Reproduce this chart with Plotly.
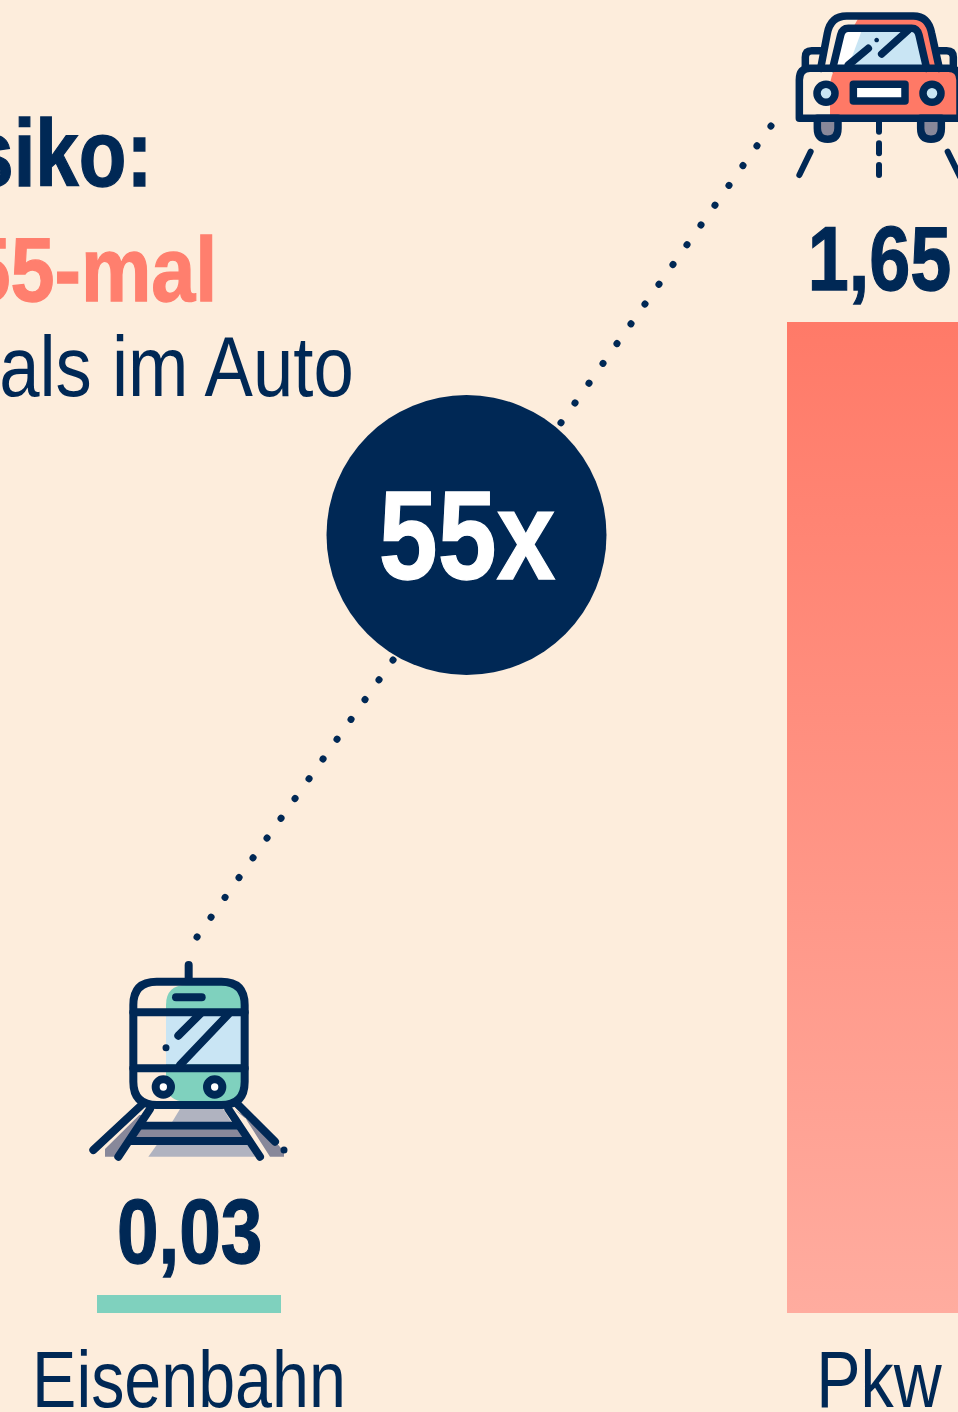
import re
import plotly.graph_objects as go

# ---- data ----
categories = ["Eisenbahn", "Pkw"]
risk_values = [0.03, 1.65]
value_labels = ["0,03", "1,65"]
bar_colors = ["#7FD1BE", "#FF7A68"]
ratio_label = "55x"
headline = ["Risiko:", "55-mal", "als im Auto"]

NAVY = "#002855"
BG = "#FDEDDC"
BLUE = "#C9E5F4"
GREEN = "#7FD1BE"
CORAL = "#FF7966"
GREY = "#88889A"
LIGHTGREY = "#B0B3C0"
FONT = "Liberation Sans"

W, H = 958, 1412
X0, XU = 189.0, 690.0       # pixel of category 0, pixels per category
BASE, YU = 1313.0, 991 / 1.65  # pixel of value 0, pixels per unit
positions = list(range(len(categories)))
bar_w = 184 / XU


def dx(px):
    return (px - X0) / XU


def dy(py):
    return (BASE - py) / YU


def icon_path(zoomed, ox, oy):
    """Path in zoom-crop coords -> pixel-mode shape path relative to the anchor (0,0)."""
    def rep(m):
        x = float(m.group(1)) / 3 + ox - X0
        y = BASE - (float(m.group(2)) / 3 + oy)
        return f"{x:.2f},{y:.2f}"
    return re.sub(r"(-?[\d.]+),(-?[\d.]+)", rep, zoomed)


shapes = []


def add(path, ox, oy, fill=None, line=NAVY, width=7.5):
    s = dict(type="path", xref="x", yref="y", xsizemode="pixel", ysizemode="pixel",
             xanchor=0, yanchor=0, path=icon_path(path, ox, oy), layer="above")
    s["fillcolor"] = fill if fill else "rgba(0,0,0,0)"
    s["line"] = dict(color=line, width=width) if line else dict(width=0)
    shapes.append(s)


def circ(cx, cy, r):
    k = 0.5523 * r
    return (f"M{cx-r},{cy} C{cx-r},{cy-k} {cx-k},{cy-r} {cx},{cy-r} "
            f"C{cx+k},{cy-r} {cx+r},{cy-k} {cx+r},{cy} "
            f"C{cx+r},{cy+k} {cx+k},{cy+r} {cx},{cy+r} "
            f"C{cx-k},{cy+r} {cx-r},{cy+k} {cx-r},{cy} Z")


# dotted connector (behind the circle)
shapes.append(dict(type="line", xref="x", yref="y", x0=dx(771), y0=dy(126), x1=dx(197), y1=dy(937),
                   line=dict(color=NAVY, width=7, dash="0.1px,24.13px"), layer="above"))
# ratio circle
shapes.append(dict(type="circle", xref="x", yref="y", x0=dx(326.5), x1=dx(606.5), y0=dy(395), y1=dy(675),
                   fillcolor=NAVY, line=dict(width=0), layer="above"))

# ---- car icon (zoom crop origin 780,0) ----
C = (780, 0)
add("M235,55 L420,55 Q450,70 460,110 L480,205 L150,205 Z", *C, fill=CORAL, line=None)
add("M160,215 Q150,240 150,262 L150,347 L560,347 L560,215 Z", *C, fill=CORAL, line=None)
add("M162,200 L190,92 L245,92 L230,200 Z", *C, fill="#FFFFFF", line=None)
add("M245,92 L408,92 L440,200 L205,200 Z", *C, fill=BLUE, line=None)
add("M112,355 L112,385 Q112,418 143,418 Q174,418 174,385 L174,355 Z", *C, fill=GREY)
add("M422,355 L422,385 Q422,418 453,418 Q484,418 484,385 L484,355 Z", *C, fill=GREY)
add("M122,205 L142,100 Q152,48 200,48 L400,48 Q445,48 455,100 L478,205", *C)
add("M158,205 L182,105 Q187,85 205,85 L395,85 Q412,85 417,105 L440,205", *C)
add("M120,152 L95,152 Q76,152 76,172 L76,205", *C)
add("M478,152 L500,152 Q520,152 520,172 L520,205", *C)
add("M58,355 L58,240 Q58,205 90,205 L505,205 Q540,205 540,240 L540,355 Z", *C)
add("M205,195 L265,145", *C)
add("M305,162 L385,90", *C)
add(circ(290, 120, 7), *C, fill=NAVY, width=0, line=None)
add(circ(138, 280, 27), *C, fill=BLUE)
add(circ(456, 280, 27), *C, fill=BLUE)
add("M220,253 L375,253 L375,303 L220,303 Z", *C, fill="#FFFFFF")
add("M297,365 L297,395", *C, width=6)
add("M297,430 L297,460", *C, width=6)
add("M297,495 L297,525", *C, width=6)
add("M92,455 L58,525", *C, width=6)
add("M503,455 L540,530", *C, width=6)

# ---- train icon (zoom crop origin 80,955) ----
T = (80, 955)
SW = 8
add("M258,150 Q258,90 320,90 L425,90 Q484,90 484,150 L484,380 Q484,440 425,440 L320,440 Q258,440 258,380 Z",
    *T, fill=GREEN, line=None)
add("M258,183 L484,183 L484,328 L258,328 Z", *T, fill=BLUE, line=None)
add("M300,462 L430,462 L455,503 L275,503 Z", *T, fill=LIGHTGREY, line=None)
add("M178,525 L478,525 L490,548 L162,548 Z", *T, fill=GREY, line=None)
add("M230,570 L505,570 L525,605 L205,605 Z", *T, fill=LIGHTGREY, line=None)
add("M178,480 L75,582 L75,605 L110,605 L195,480 Z", *T, fill=GREY, line=None)
add("M465,465 L595,570 L612,590 L612,605 L570,605 L490,480 Z", *T, fill=GREY, line=None)
add("M326,30 L326,75", *T, width=SW)
add("M230,80 L424,80 Q494,80 494,150 L494,380 Q494,450 424,450 L230,450 Q160,450 160,380 L160,150 Q160,80 230,80 Z", *T, width=SW)
add("M160,172 L494,172", *T, width=SW)
add("M160,340 L494,340", *T, width=SW)
add("M288,127 L365,127", *T, width=SW)
add("M300,330 L445,178", *T, width=SW)
add("M295,242 L362,175", *T, width=SW)
add(circ(258, 278, 6), *T, fill=NAVY, line=NAVY, width=3)
add(circ(250, 396, 23), *T, fill="#FFFFFF", width=8)
add(circ(404, 396, 23), *T, fill="#FFFFFF", width=8)
add("M190,445 L40,585", *T, width=SW)
add("M470,445 L585,560", *T, width=SW)
add(circ(612, 585, 6), *T, fill=NAVY, line=NAVY, width=3)
add("M210,462 L115,605", *T, width=SW)
add("M445,462 L540,605", *T, width=SW)
add("M182,512 L472,512", *T, width=SW)
add("M150,558 L505,558", *T, width=SW)

# ---- marks ----
fig = go.Figure()
fig.add_trace(go.Bar(x=positions, y=risk_values, width=bar_w,
                     marker=dict(color=bar_colors, line=dict(width=0)),
                     hoverinfo="skip", showlegend=False))
# gradient face of the tallest bar, built from its own value
i = risk_values.index(max(risk_values))
l, r = positions[i] - bar_w / 2, positions[i] + bar_w / 2
fig.add_trace(go.Scatter(x=[l, r, r, l, l], y=[0, 0, risk_values[i], risk_values[i], 0],
                         mode="none", fill="toself", hoverinfo="skip", showlegend=False,
                         fillgradient=dict(type="vertical",
                                           colorscale=[[0, "#FFAC9F"], [1, "#FF7A68"]])))

ann = []
for p, v, t in zip(positions, risk_values, value_labels):
    ann.append(dict(x=p, y=v, xref="x", yref="y", text=f"<b>{t}</b>", showarrow=False,
                    xanchor="center", yanchor="bottom", yshift=11,
                    font=dict(family=FONT, size=90, color=NAVY)))
ann.append(dict(x=dx(466.5), y=dy(535), xref="x", yref="y", text=f"<b>{ratio_label}</b>", showarrow=False,
                xanchor="center", yanchor="middle",
                font=dict(family=FONT, size=126, color="#FFFFFF")))
ann.append(dict(x=dx(154), y=dy(153), xref="x", yref="y", text=f"<b>{headline[0]}</b>", showarrow=False,
                xanchor="right", yanchor="middle",
                font=dict(family=FONT, size=94, color=NAVY)))
ann.append(dict(x=dx(219), y=dy(269), xref="x", yref="y", text=f"<b>{headline[1]}</b>", showarrow=False,
                xanchor="right", yanchor="middle",
                font=dict(family=FONT, size=91, color="#FF7F6E")))
ann.append(dict(x=dx(356), y=dy(366), xref="x", yref="y", text=headline[2], showarrow=False,
                xanchor="right", yanchor="middle",
                font=dict(family=FONT, size=85, color=NAVY)))

fig.update_layout(
    width=W, height=H, margin=dict(l=0, r=0, t=0, b=H - BASE, pad=0),
    paper_bgcolor=BG, plot_bgcolor=BG, showlegend=False, bargap=0,
    shapes=shapes, annotations=ann,
    xaxis=dict(range=[dx(0), dx(W)], tickmode="array", tickvals=positions, ticktext=categories,
               tickfont=dict(family=FONT, size=80, color=NAVY), showgrid=False, zeroline=False,
               showline=False, ticks="", automargin=False, fixedrange=True, ticklabelstandoff=13,
               ticklabeloverflow="allow"),
    yaxis=dict(range=[0, dy(0)], showgrid=False, zeroline=False, showline=False,
               showticklabels=False, ticks="", automargin=False, fixedrange=True),
)


def ann_rule(idx, scale, origin, color):
    return (f'.annotation[data-index=\\"{idx}\\"] text{{transform-box:fill-box;transform-origin:{origin};'
            f'transform:scaleX({scale});stroke:{color};stroke-width:1.3px}}')


rules = "".join([
    "html,body{margin:0;padding:0;overflow:hidden}",
    ".shapelayer path{stroke-linecap:round;stroke-linejoin:round}",
    ann_rule(0, .83, "center", NAVY),
    ann_rule(1, .82, "center", NAVY),
    ann_rule(2, .84, "center", "#FFFFFF"),
    ann_rule(3, .83, "right center", NAVY),
    ann_rule(4, .87, "right center", "#FF7F6E"),
    ann_rule(5, .853, "right center", "transparent"),
])
post = (
    'var s=document.createElement("style");s.textContent="' + rules + '";document.head.appendChild(s);'
    'function squeeze(){document.querySelectorAll(".xtick text").forEach(function(t){'
    'if(t.dataset.sq)return;var a=t.getAttribute("transform")||"";'
    't.setAttribute("transform",a+" scale(.83,1)");t.dataset.sq="1";});}'
    'squeeze();setTimeout(squeeze,0);setTimeout(squeeze,200);'
)
fig.write_html("out.html", config={"displayModeBar": False, "responsive": False}, post_script=post)
